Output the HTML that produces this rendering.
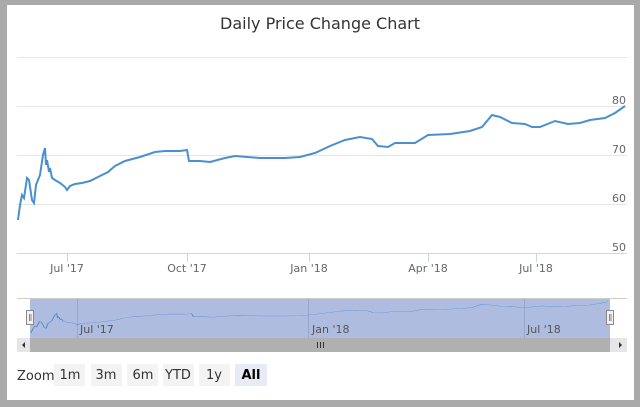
<!DOCTYPE html>
<html><head><meta charset="utf-8"><style>
html,body{margin:0;padding:0;background:#aaa;}
svg{display:block;font-family:"DejaVu Sans","Liberation Sans",sans-serif;}
</style></head><body>
<svg width="640" height="407" viewBox="0 0 640 407">
<rect x="0" y="0" width="640" height="407" fill="#aaa"/>
<rect x="7" y="5" width="627" height="395" fill="#fff"/>
<text x="320" y="29" text-anchor="middle" font-size="16" fill="#333">Daily Price Change Chart</text>
<g stroke="#e6e6e6" stroke-width="1">
<line x1="17" x2="627" y1="57.5" y2="57.5"/>
<line x1="17" x2="627" y1="106.5" y2="106.5"/>
<line x1="17" x2="627" y1="155.5" y2="155.5"/>
<line x1="17" x2="627" y1="204.5" y2="204.5"/>
</g>
<line x1="17" x2="627" y1="253.5" y2="253.5" stroke="#ccd6eb"/>
<g stroke="#ccd6eb"><line x1="67.5" x2="67.5" y1="253" y2="262"/><line x1="187.5" x2="187.5" y1="253" y2="262"/><line x1="309.5" x2="309.5" y1="253" y2="262"/><line x1="428.5" x2="428.5" y1="253" y2="262"/><line x1="536.5" x2="536.5" y1="253" y2="262"/></g>
<g font-size="11" fill="#666" text-anchor="middle">
<text x="67" y="272">Jul '17</text><text x="187" y="272">Oct '17</text><text x="309" y="272">Jan '18</text><text x="428" y="272">Apr '18</text><text x="536" y="272">Jul '18</text>
</g>
<g font-size="11" fill="#666" text-anchor="end">
<text x="626" y="104">80</text><text x="626" y="153">70</text><text x="626" y="202">60</text><text x="626" y="251">50</text>
</g>
<defs>
<polyline id="ser" fill="none" points="18,220 20,205 22,195 24,198 27,178 29,180 32,200 34,203 36,185 40,175 43,155 45,148 46,165 47,160 49,172 50,168 52,178 55,180 60,183 65,187 67,190 70,186 75,184 82,183 90,181 100,176 108,172 115,166 125,161 140,157 155,152 165,151 180,151 187,150 189,161 200,161 210,162 225,158 235,156 260,158 285,158 300,157 315,153 330,146 345,140 360,137 372,139 378,146 388,147 395,143 415,143 428,135 450,134 470,131 482,127 492,115 500,117 512,123 525,124 532,127 540,127 555,121 568,124 580,123 590,120 605,118 615,113 625,106"/>
</defs>
<use href="#ser" stroke="#4a8fd0" stroke-width="2"/>
<!-- navigator -->
<rect x="17" y="298" width="610" height="40" fill="#fff"/>
<line x1="17" x2="627" y1="298.5" y2="298.5" stroke="#ccc"/>
<rect x="30" y="299" width="580" height="39" fill="#aebddf"/>
<g stroke="#98a8cc"><line x1="77.5" x2="77.5" y1="299" y2="338"/><line x1="308.5" x2="308.5" y1="299" y2="338"/><line x1="524.5" x2="524.5" y1="299" y2="338"/></g>
<use href="#ser" stroke="#4a80c8" stroke-width="1" transform="matrix(0.951,0,0,0.274,13.83,272.7)" style="vector-effect:non-scaling-stroke"/>
<g font-size="11" fill="#555"><text x="80" y="333">Jul '17</text><text x="312" y="333">Jan '18</text><text x="527" y="333">Jul '18</text></g>
<rect x="26.5" y="310.5" width="7" height="14" fill="#f2f2f2" stroke="#888"/><line x1="29.5" x2="29.5" y1="314" y2="321" stroke="#888"/><line x1="31" x2="31" y1="314" y2="321" stroke="#888"/>
<rect x="606.5" y="310.5" width="7" height="14" fill="#f2f2f2" stroke="#888"/><line x1="609.5" x2="609.5" y1="314" y2="321" stroke="#888"/><line x1="611" x2="611" y1="314" y2="321" stroke="#888"/>
<rect x="17" y="338" width="610" height="14" fill="#e6e6e6"/>
<rect x="30" y="338" width="580" height="14" fill="#b0b0b0"/>
<path d="M22 345 l3 -3 v6z" fill="#333"/><path d="M622 345 l-3 -3 v6z" fill="#333"/>
<g stroke="#333"><line x1="317.5" x2="317.5" y1="342" y2="348"/><line x1="320.5" x2="320.5" y1="342" y2="348"/><line x1="323.5" x2="323.5" y1="342" y2="348"/></g>
<!-- buttons -->
<text x="17" y="380" font-size="13" fill="#333">Zoom</text>
<g fill="#f3f3f3"><rect x="54" y="364" width="31" height="22"/><rect x="91" y="364" width="31" height="22"/><rect x="127" y="364" width="31" height="22"/><rect x="163" y="364" width="31" height="22"/><rect x="199" y="364" width="31" height="22"/></g>
<rect x="235" y="364" width="32" height="22" fill="#e6ebf5"/>
<g font-size="13" fill="#333" text-anchor="middle"><text x="70" y="379">1m</text><text x="106" y="379">3m</text><text x="143" y="379">6m</text><text x="178" y="379">YTD</text><text x="214" y="379">1y</text><text x="251" y="379" font-weight="bold" fill="#000">All</text></g>
</svg>
</body></html>
